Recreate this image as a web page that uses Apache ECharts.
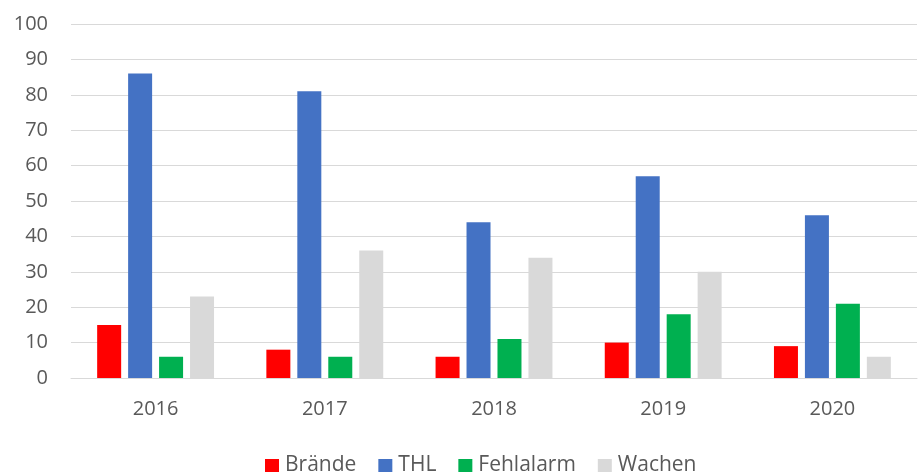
<!DOCTYPE html>
<html>
<head>
<meta charset="utf-8">
<script src="https://cdn.jsdelivr.net/npm/echarts@6/dist/echarts.min.js"></script>
<style>
  html, body { margin: 0; padding: 0; background: #fff; }
  #chart { width: 922px; height: 473px; }
</style>
</head>
<body>
<div id="chart"></div>
<script>
const years = ['2016', '2017', '2018', '2019', '2020'];
const braende = [15, 8, 6, 10, 9];
const thl = [86, 81, 44, 57, 46];
const fehlalarm = [6, 6, 11, 18, 21];
const wachen = [23, 36, 34, 30, 6];

const font = '"Open Sans", "Liberation Sans", sans-serif';
const textColor = '#595959';

function bar(name, data, color) {
  return {
    name: name,
    type: 'bar',
    data: data,
    barWidth: 24,
    barGap: '29%',
    itemStyle: { color: color }
  };
}

const chart = echarts.init(document.getElementById('chart'));
chart.setOption({
  animation: false,
  grid: { left: 71, right: 5, top: 24, bottom: 95 },
  legend: {
    padding: 0,
    bottom: -3,
    left: 265,
    itemWidth: 14,
    itemHeight: 13,
    itemGap: 22,
    icon: 'rect',
    textStyle: { fontFamily: font, fontSize: 21, color: textColor, padding: [0, 0, 0, 1] }
  },
  xAxis: {
    type: 'category',
    data: years,
    axisTick: { show: false },
    axisLine: { lineStyle: { color: '#D9D9D9', width: 1 } },
    axisLabel: { fontFamily: font, fontSize: 20, color: textColor, margin: 21 }
  },
  yAxis: {
    type: 'value',
    min: 0,
    max: 100,
    interval: 10,
    axisLine: { show: false },
    axisTick: { show: false },
    splitLine: { lineStyle: { color: '#D9D9D9', width: 1 } },
    axisLabel: { fontFamily: font, fontSize: 20, color: textColor, margin: 23 }
  },
  series: [
    bar('Brände', braende, '#FF0000'),
    bar('THL', thl, '#4472C4'),
    bar('Fehlalarm', fehlalarm, '#00B050'),
    bar('Wachen', wachen, '#D9D9D9')
  ]
});
</script>
</body>
</html>
